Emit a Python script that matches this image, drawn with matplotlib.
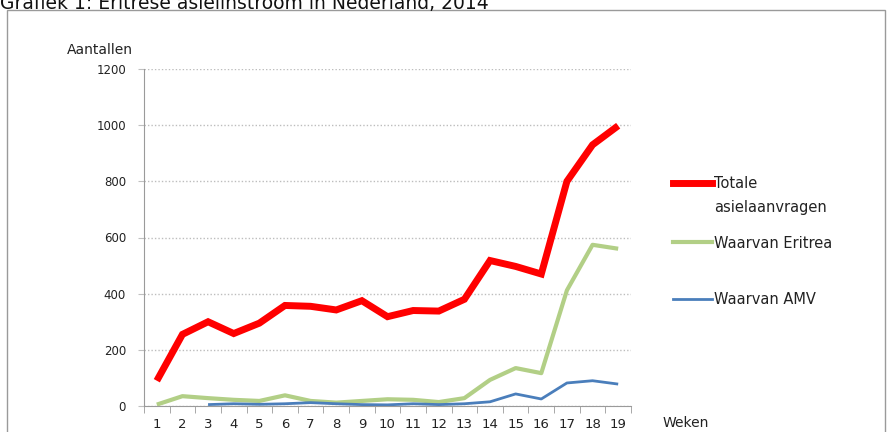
import numpy as np
import matplotlib
matplotlib.use("Agg")
import matplotlib.pyplot as plt
from matplotlib.patches import Rectangle
from matplotlib.lines import Line2D

weeks = list(range(1, 20))
totaal = [90, 255, 300, 258, 295, 358, 355, 342, 375, 318, 340, 338, 380, 518, 497, 470, 800, 930, 998]
eritrea = [5, 35, 28, 22, 18, 38, 18, 12, 18, 24, 22, 14, 28, 93, 135, 117, 412, 574, 560]
amv = [np.nan, np.nan, 5, 8, 6, 8, 12, 8, 5, 4, 8, 5, 8, 15, 43, 25, 82, 90, 78]
yticks = [0, 200, 400, 600, 800, 1000, 1200]

plt.rcParams['font.family'] = ['DejaVu Sans']
txt = '#222222'

fig = plt.figure(figsize=(8.9, 4.32), dpi=100)
ax = fig.add_axes([144 / 890, 1 - 406 / 432, 487 / 890, 337 / 432])

# outer frame and title (cut off at the top as in the source)
fig.patches.append(Rectangle((7 / 890, -0.2), 878 / 890, 1.2 - 10 / 432, transform=fig.transFigure,
                             fill=False, edgecolor='#9a9a9a', lw=1.0, clip_on=False))
fig.text(0.0, 1 - 9 / 432, 'Grafiek 1: Eritrese asielinstroom in Nederland, 2014',
         fontsize=13.5, va='baseline', ha='left', color='#111111')

l1, = ax.plot(weeks, totaal, color='#ff0000', lw=5, solid_joinstyle='miter', solid_capstyle='butt')
l2, = ax.plot(weeks, eritrea, color='#b2cf86', lw=3, solid_capstyle='butt')
l3, = ax.plot(weeks, amv, color='#4a7ebb', lw=2, solid_capstyle='butt')

ax.set_xlim(0.5, 19.5)
ax.set_ylim(0, 1200)
ax.set_yticks(yticks)
ax.set_xticks(weeks)
ax.set_xticks(np.arange(0.5, 20, 1), minor=True)
ax.tick_params(axis='x', which='major', length=0, pad=9, labelsize=9.5, labelcolor=txt)
ax.tick_params(axis='x', which='minor', length=5, color='#9a9a9a', direction='out')
ax.tick_params(axis='y', length=4, color='#c0c0c0', pad=9, labelsize=8.5, labelcolor=txt)
ax.grid(axis='y', linestyle=(0, (1, 1.5)), color='#bdbdbd', lw=1)
ax.set_axisbelow(True)
for s in ['top', 'right']:
    ax.spines[s].set_visible(False)
ax.spines['left'].set_color('#9a9a9a')
ax.spines['bottom'].set_color('#9a9a9a')

fig.text(67 / 890, 1 - 50 / 432, 'Aantallen', fontsize=10, va='center', ha='left', color=txt)
fig.text(663 / 890, 1 - 423 / 432, 'Weken', fontsize=10, va='center', ha='left', color=txt)

# legend entries, each placed on its own
entries = [(l1, 'Totale', 184), (l2, 'Waarvan Eritrea', 243), (l3, 'Waarvan AMV', 300)]
for line, label, ypix in entries:
    h = Line2D([], [], color=line.get_color(), lw=line.get_linewidth())
    leg = fig.legend([h], [label], loc='center left', bbox_to_anchor=(673 / 890, 1 - ypix / 432),
                     frameon=False, fontsize=10.5, handlelength=2.7, handletextpad=0.1,
                     borderaxespad=0, borderpad=0)
    for t in leg.get_texts():
        t.set_color(txt)
fig.text(714 / 890, 1 - 208 / 432, 'asielaanvragen', fontsize=10.5, va='center', ha='left', color=txt)

fig.savefig('out.png', dpi=100)
